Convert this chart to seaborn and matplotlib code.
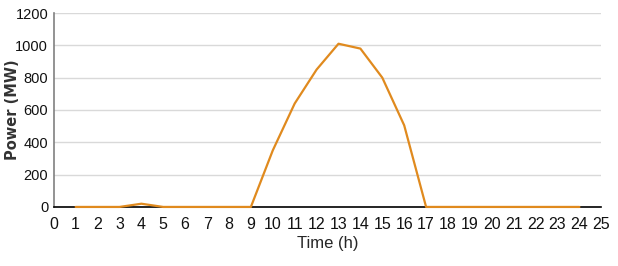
import pandas as pd
import matplotlib.pyplot as plt
import seaborn as sns

# hourly PV output
hours = list(range(1, 25))
power = [0, 0, 0, 20, 0, 0, 0, 0, 0, 350, 640, 850, 1010, 980, 800, 505,
         0, 0, 0, 0, 0, 0, 0, 0]
x_ticks = list(range(0, 26))
y_ticks = [0, 200, 400, 600, 800, 1000, 1200]

df = pd.DataFrame({'Time': hours, 'Power': power})

sns.set_style('white')
plt.rcParams['font.family'] = ['Liberation Sans', 'DejaVu Sans']

fig = plt.figure(figsize=(6.18, 2.66), dpi=100)
ax = fig.add_axes([0.087, 0.222, 0.886, 0.729])

# 선을 축 위에 그려서 0 구간도 보이게
sns.lineplot(data=df, x='Time', y='Power', ax=ax, color='#E08A1E', linewidth=1.6,
             zorder=3, clip_on=False)

ax.set_xlim(0, 25)
ax.set_ylim(0, 1200)
ax.set_xticks(x_ticks)
ax.set_yticks(y_ticks)
ax.grid(axis='y', color='#d9d9d9', linewidth=1)
ax.set_axisbelow(True)

for s in ['top', 'right']:
    ax.spines[s].set_visible(False)
ax.spines['bottom'].set_color('black')
ax.spines['bottom'].set_linewidth(1.2)
ax.spines['left'].set_color('#808080')
ax.spines['left'].set_linewidth(1.2)

ax.tick_params(axis='x', direction='in', length=7, width=1, color='#555555',
               labelsize=11.5, pad=7, labelcolor='#111111')
ax.tick_params(axis='y', direction='out', length=3, width=1, color='#555555',
               labelsize=10.5, pad=1, labelcolor='#111111')

ax.set_xlabel('Time (h)', fontsize=12, labelpad=3)
ax.set_ylabel('Power (MW)', fontsize=10.5, fontweight='bold',
              family=['DejaVu Sans'], color='#333333')
ax.yaxis.set_label_coords(-0.061, 0.5)

plt.savefig('out.png', dpi=100)
